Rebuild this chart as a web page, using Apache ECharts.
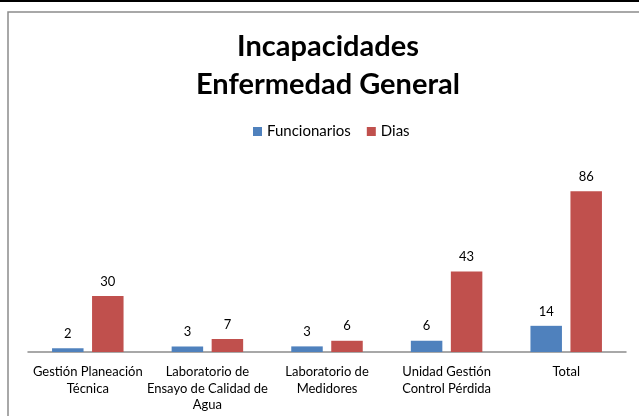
<!DOCTYPE html>
<html>
<head>
<meta charset="utf-8">
<script src="https://cdn.jsdelivr.net/npm/echarts@6/dist/echarts.min.js"></script>
<style>
  html, body { margin: 0; padding: 0; background: #fff; }
  #chart { width: 639px; height: 416px; }
</style>
</head>
<body>
<div id="chart"></div>
<script>
const categories = [
  'Gestión Planeación\nTécnica',
  'Laboratorio de\nEnsayo de Calidad de\nAgua',
  'Laboratorio de\nMedidores',
  'Unidad Gestión\nControl Pérdida',
  'Total'
]
const funcionarios = [2, 3, 3, 6, 14]
const dias = [30, 7, 6, 43, 86]

const FONT = 'Lato, "Open Sans", sans-serif'

const chart = echarts.init(document.getElementById('chart'))

const labelStyle = {
  show: true,
  position: 'top',
  distance: 8,
  color: '#000',
  fontSize: 13,
  fontFamily: FONT
}

const option = {
  animation: false,
  backgroundColor: '#fff',
  textStyle: { fontFamily: FONT },
  graphic: [
    // frame lines seen in the screenshot
    { type: 'rect', shape: { x: 0, y: 0, width: 639, height: 2 }, style: { fill: '#000' } },
    { type: 'rect', shape: { x: 8, y: 12, width: 640, height: 420 }, style: { fill: null, stroke: '#8c8c8c', lineWidth: 1.5 } }
  ],
  title: {
    text: 'Incapacidades\nEnfermedad General',
    left: 323,
    top: 23,
    textAlign: 'center',
    textStyle: {
      fontFamily: FONT,
      fontWeight: 'bold',
      fontSize: 29,
      lineHeight: 38,
      color: '#000'
    }
  },
  legend: {
    left: 248,
    top: 119,
    itemWidth: 9,
    itemHeight: 9,
    itemGap: 16,
    icon: 'rect',
    textStyle: { fontSize: 15, color: '#000', fontFamily: FONT },
    data: ['Funcionarios', 'Dias']
  },
  grid: { left: 28, right: 13, top: 165, bottom: 64 },
  xAxis: {
    type: 'category',
    data: categories,
    axisTick: { show: false },
    axisLine: { lineStyle: { color: '#8c8c8c', width: 1.5 } },
    axisLabel: {
      interval: 0,
      margin: 12,
      color: '#000',
      fontSize: 13,
      lineHeight: 16.5,
      fontFamily: FONT
    }
  },
  yAxis: {
    type: 'value',
    min: 0,
    max: 100,
    show: false,
    splitLine: { show: false }
  },
  series: [
    {
      name: 'Funcionarios',
      type: 'bar',
      data: funcionarios,
      barWidth: 31.5,
      barGap: '27%',
      itemStyle: { color: '#4F81BD' },
      label: labelStyle
    },
    {
      name: 'Dias',
      type: 'bar',
      data: dias,
      barWidth: 31.5,
      itemStyle: { color: '#C0504D' },
      label: labelStyle
    }
  ]
}

chart.setOption(option)
</script>
</body>
</html>
